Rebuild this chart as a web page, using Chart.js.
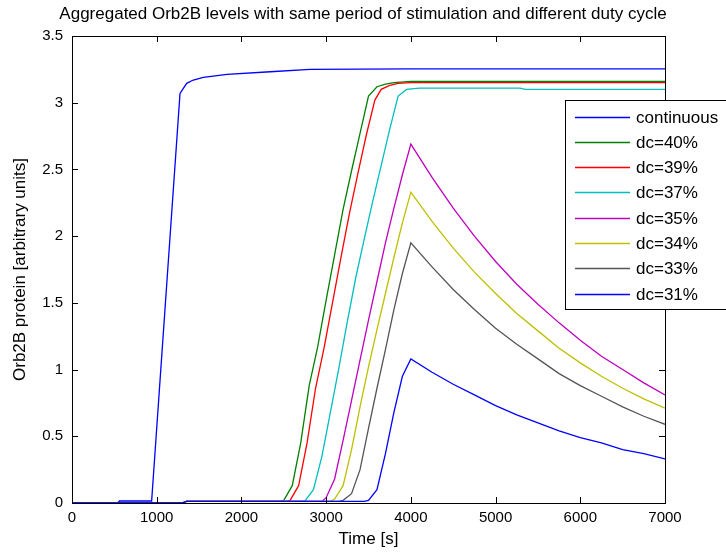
<!DOCTYPE html>
<html>
<head>
<meta charset="utf-8">
<script src="https://cdn.jsdelivr.net/npm/chart.js@4.4.1/dist/chart.umd.min.js"></script>
<style>
  html, body { margin: 0; padding: 0; background: #fff; }
  #wrap { width: 726px; height: 553px; position: relative; }
</style>
</head>
<body>
<div id="wrap"><canvas id="grafico"></canvas></div>
<script>
// valores
const tituloTexto = "Aggregated Orb2B levels with same period of stimulation and different duty cycle";
const seriesLabels = ["continuous", "dc=40%", "dc=39%", "dc=37%", "dc=35%", "dc=34%", "dc=33%", "dc=31%"];
const seriesColors = ["#0000ff", "#008000", "#ff0000", "#00bfbf", "#bf00bf", "#bfbf00", "#555555", "#0000ff"];

const xTicks = [0, 1000, 2000, 3000, 4000, 5000, 6000, 7000];
const yTicks = [0, 0.5, 1, 1.5, 2, 2.5, 3, 3.5];

const tContinuous = [0, 540, 560, 940, 1275, 1354, 1432, 1550, 1830, 2340, 2810, 4000, 7000];
const vContinuous = [0, 0, 0.015, 0.015, 3.07, 3.145, 3.17, 3.19, 3.213, 3.232, 3.25, 3.253, 3.253];

const tDc40 = [0, 1300, 1350, 2450, 2500, 2600, 2700, 2800, 2900, 3000, 3100, 3200, 3300, 3400, 3500, 3600, 3700, 3800, 4000, 7000];
const vDc40 = [0, 0, 0.012, 0.012, 0.02, 0.13, 0.45, 0.88, 1.17, 1.52, 1.86, 2.2, 2.49, 2.77, 3.05, 3.12, 3.14, 3.15, 3.16, 3.16];

const tDc39 = [0, 1300, 1350, 2525, 2575, 2675, 2775, 2875, 2975, 3075, 3175, 3275, 3375, 3475, 3575, 3650, 3750, 3850, 4000, 7000];
const vDc39 = [0, 0, 0.012, 0.012, 0.02, 0.13, 0.45, 0.86, 1.16, 1.5, 1.84, 2.17, 2.47, 2.76, 3.02, 3.1, 3.13, 3.145, 3.15, 3.15];

const tDc37 = [0, 1300, 1350, 2700, 2750, 2850, 2950, 3050, 3150, 3250, 3350, 3450, 3550, 3650, 3750, 3850, 3950, 4100, 5290, 5350, 7000];
const vDc37 = [0, 0, 0.012, 0.012, 0.015, 0.1, 0.35, 0.68, 1.01, 1.36, 1.69, 1.98, 2.26, 2.53, 2.8, 3.05, 3.1, 3.11, 3.11, 3.1, 3.1];

// subida y luego caída después de t = 4000
const tDecay = [4250, 4500, 4750, 5000, 5250, 5500, 5750, 6000, 6250, 6500, 6750, 7000];

const tDc35 = [0, 1300, 1350, 2950, 3000, 3100, 3200, 3300, 3400, 3500, 3600, 3700, 3800, 3900, 4000].concat(tDecay);
const vDc35 = [0, 0, 0.012, 0.012, 0.04, 0.18, 0.47, 0.77, 1.07, 1.37, 1.66, 1.95, 2.21, 2.46, 2.69,
               2.44, 2.21, 2.0, 1.81, 1.64, 1.49, 1.35, 1.22, 1.1, 1.0, 0.9, 0.81];

const tDc34 = [0, 1300, 1350, 3050, 3100, 3200, 3300, 3400, 3500, 3600, 3700, 3800, 3900, 4000].concat(tDecay);
const vDc34 = [0, 0, 0.012, 0.012, 0.03, 0.13, 0.4, 0.72, 1.02, 1.3, 1.57, 1.84, 2.1, 2.33,
               2.11, 1.91, 1.73, 1.57, 1.42, 1.29, 1.16, 1.05, 0.95, 0.86, 0.78, 0.71];

const tDc33 = [0, 1300, 1350, 3150, 3200, 3300, 3400, 3500, 3600, 3700, 3800, 3900, 4000].concat(tDecay);
const vDc33 = [0, 0, 0.012, 0.012, 0.02, 0.07, 0.25, 0.56, 0.86, 1.15, 1.45, 1.72, 1.95,
               1.77, 1.6, 1.45, 1.31, 1.19, 1.08, 0.97, 0.88, 0.8, 0.72, 0.65, 0.59];

const tDc31 = [0, 1300, 1350, 3450, 3500, 3600, 3700, 3800, 3900, 4000].concat(tDecay);
const vDc31 = [0, 0, 0.012, 0.012, 0.02, 0.1, 0.37, 0.68, 0.95, 1.08,
               0.98, 0.89, 0.81, 0.73, 0.66, 0.6, 0.54, 0.49, 0.45, 0.4, 0.37, 0.33];

const tiempos = [tContinuous, tDc40, tDc39, tDc37, tDc35, tDc34, tDc33, tDc31];
const valores = [vContinuous, vDc40, vDc39, vDc37, vDc35, vDc34, vDc33, vDc31];

const fuente = "'Liberation Sans', Arial, sans-serif";

const datasets = seriesLabels.map((label, i) => ({
  label: label,
  data: tiempos[i].map((t, j) => ({ x: t, y: valores[i][j] })),
  borderColor: seriesColors[i],
  backgroundColor: seriesColors[i],
  borderWidth: 1.3,
  pointRadius: 0,
  tension: 0,
  fill: false,
  order: seriesLabels.length - i, // las últimas series quedan encima, como en MATLAB
}));

// título, marco, marcas interiores y leyenda dentro del área
const marcoPlugin = {
  id: "marco",
  afterDatasetsDraw(chart) {
    const { ctx, chartArea: a, scales } = chart;
    ctx.save();

    ctx.fillStyle = "#000";
    ctx.font = "17px " + fuente;
    ctx.textAlign = "center";
    ctx.textBaseline = "middle";
    ctx.fillText(tituloTexto, chart.width / 2, 14);

    ctx.strokeStyle = "#000";
    ctx.lineWidth = 1;
    ctx.strokeRect(Math.round(a.left) + 0.5, Math.round(a.top) + 0.5,
      Math.round(a.right - a.left), Math.round(a.bottom - a.top));
    ctx.beginPath();
    xTicks.forEach((v) => {
      const px = Math.round(scales.x.getPixelForValue(v)) + 0.5;
      ctx.moveTo(px, a.bottom); ctx.lineTo(px, a.bottom - 6);
      ctx.moveTo(px, a.top); ctx.lineTo(px, a.top + 6);
    });
    yTicks.forEach((v) => {
      const py = Math.round(scales.y.getPixelForValue(v)) + 0.5;
      ctx.moveTo(a.left, py); ctx.lineTo(a.left + 6, py);
      ctx.moveTo(a.right, py); ctx.lineTo(a.right - 6, py);
    });
    ctx.stroke();

    // leyenda
    const lx = 565, ly = 100, lw = 165, lh = 209;
    ctx.fillStyle = "#fff";
    ctx.fillRect(lx, ly, lw, lh);
    ctx.strokeRect(lx + 0.5, ly + 0.5, lw, lh);
    ctx.font = "17px " + fuente;
    ctx.textBaseline = "middle";
    ctx.textAlign = "left";
    seriesLabels.forEach((label, i) => {
      const y = Math.round(116.5 + i * 25.3);
      ctx.strokeStyle = seriesColors[i];
      ctx.lineWidth = 1.3;
      ctx.beginPath();
      ctx.moveTo(575, y + 0.5); ctx.lineTo(630, y + 0.5);
      ctx.stroke();
      ctx.fillStyle = "#000";
      ctx.fillText(label, 636, y + 1);
    });
    ctx.restore();
  },
};

new Chart(document.getElementById("grafico").getContext("2d"), {
  type: "line",
  data: { datasets: datasets },
  options: {
    responsive: true,
    maintainAspectRatio: false,
    animation: false,
    devicePixelRatio: 1,
    layout: { padding: { left: 0, right: 61, top: 36, bottom: 0 } },
    plugins: {
      legend: { display: false },
      tooltip: { enabled: false },
      title: { display: false },
    },
    scales: {
      x: {
        type: "linear",
        min: 0,
        max: 7000,
        afterBuildTicks: (scale) => { scale.ticks = xTicks.map((v) => ({ value: v })); },
        afterFit: (scale) => { scale.height = 50; },
        grid: { display: false, drawTicks: false },
        border: { display: false },
        ticks: {
          color: "#000",
          padding: 6,
          maxRotation: 0,
          font: { family: fuente, size: 15 },
          callback: (v) => String(v),
        },
        title: {
          display: true,
          text: "Time [s]",
          color: "#000",
          font: { family: fuente, size: 17 },
          padding: { top: 0, bottom: 3 },
        },
      },
      y: {
        type: "linear",
        min: 0,
        max: 3.5,
        afterBuildTicks: (scale) => { scale.ticks = yTicks.map((v) => ({ value: v })); },
        afterFit: (scale) => { scale.width = 72; },
        grid: { display: false, drawTicks: false },
        border: { display: false },
        ticks: {
          color: "#000",
          padding: 9,
          font: { family: fuente, size: 15 },
          callback: (v) => String(v),
        },
        title: {
          display: true,
          text: "Orb2B protein [arbitrary units]",
          color: "#000",
          font: { family: fuente, size: 17 },
          padding: { top: 10, bottom: 0 },
        },
      },
    },
  },
  plugins: [marcoPlugin],
});
</script>
</body>
</html>
